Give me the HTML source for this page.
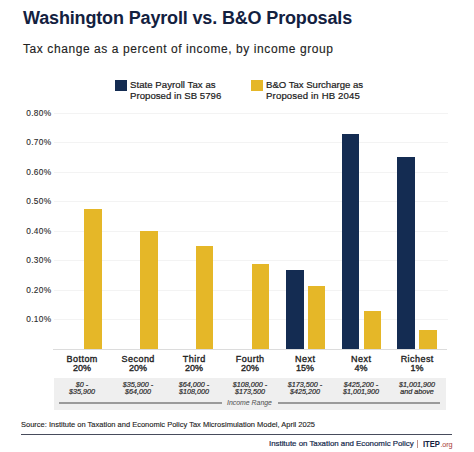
<!DOCTYPE html>
<html><head><meta charset="utf-8">
<style>
html,body{margin:0;padding:0;background:#fff;}
body{width:474px;height:452px;position:relative;overflow:hidden;font-family:"Liberation Sans",sans-serif;}
.a{position:absolute;white-space:nowrap;line-height:1;}
.title{left:23px;top:9px;font-size:18px;font-weight:bold;color:#13213f;letter-spacing:-0.15px;}
.sub{left:23px;top:42.6px;font-size:12px;color:#222;-webkit-text-stroke:0.12px #222;letter-spacing:0.58px;}
.sw{position:absolute;width:12px;height:11px;}
.leg{font-size:9.6px;color:#1a1a1a;line-height:10.5px;-webkit-text-stroke:0.2px #1a1a1a;}
.yl{font-size:8.3px;color:#2a2a2a;text-align:right;width:40px;left:11.5px;letter-spacing:0.35px;margin-top:-0.6px;-webkit-text-stroke:0.1px #2a2a2a;}
.grid{position:absolute;left:54px;width:394px;height:1px;background:#f3f3f3;}
.bar{position:absolute;width:17.5px;}
.n{background:#142c52;}
.y{background:#e5b728;}
.cat{font-size:9px;font-weight:normal;-webkit-text-stroke:0.35px #222;color:#222;text-align:center;width:60px;line-height:9.4px;}
.l1{letter-spacing:0.45px;margin-right:-0.45px;}
.inc{font-size:7.2px;font-style:italic;color:#2a2a2a;-webkit-text-stroke:0.2px #2a2a2a;text-align:center;width:60px;line-height:7px;}
</style></head><body>
<div class="a title">Washington Payroll vs. B&amp;O Proposals</div>
<div class="a sub">Tax change as a percent of income, by income group</div>

<div class="sw n" style="left:115px;top:80px;"></div>
<div class="a leg" style="left:130px;top:80.1px;"><span style="letter-spacing:0.05px">State Payroll Tax as</span><br><span style="letter-spacing:0.03px">Proposed in SB 5796</span></div>
<div class="sw y" style="left:251px;top:80px;"></div>
<div class="a leg" style="left:266px;top:80.1px;"><span style="letter-spacing:-0.02px">B&amp;O Tax Surcharge as</span><br><span style="letter-spacing:0.15px">Proposed in HB 2045</span></div>

<div class="grid" style="top:113px"></div>
<div class="grid" style="top:142px"></div>
<div class="grid" style="top:172px"></div>
<div class="grid" style="top:201px"></div>
<div class="grid" style="top:231px"></div>
<div class="grid" style="top:260px"></div>
<div class="grid" style="top:290px"></div>
<div class="grid" style="top:319px"></div>
<div class="a" style="left:53px;top:349px;width:394px;height:1px;background:#dcdcdc;"></div>

<div class="a yl" style="top:110px">0.80%</div>
<div class="a yl" style="top:139px">0.70%</div>
<div class="a yl" style="top:169px">0.60%</div>
<div class="a yl" style="top:198px">0.50%</div>
<div class="a yl" style="top:228px">0.40%</div>
<div class="a yl" style="top:257px">0.30%</div>
<div class="a yl" style="top:287px">0.20%</div>
<div class="a yl" style="top:316px">0.10%</div>

<!-- bars -->
<div class="bar y" style="left:84px;top:209px;height:140px"></div>
<div class="bar y" style="left:140px;top:231px;height:118px"></div>
<div class="bar y" style="left:195.5px;top:246px;height:103px"></div>
<div class="bar y" style="left:251.5px;top:264px;height:85px"></div>
<div class="bar n" style="left:286px;top:270px;height:79px"></div>
<div class="bar y" style="left:307.5px;top:285.5px;height:63.5px"></div>
<div class="bar n" style="left:341.5px;top:133.5px;height:215.5px"></div>
<div class="bar y" style="left:363.5px;top:310.5px;height:38.5px"></div>
<div class="bar n" style="left:397px;top:156.5px;height:192.5px"></div>
<div class="bar y" style="left:419px;top:330px;height:19px"></div>

<!-- categories -->
<div class="a cat" style="left:52px;top:355px"><span class="l1">Bottom</span><br>20%</div>
<div class="a cat" style="left:108px;top:355px"><span class="l1">Second</span><br>20%</div>
<div class="a cat" style="left:164px;top:355px"><span class="l1">Third</span><br>20%</div>
<div class="a cat" style="left:220px;top:355px"><span class="l1">Fourth</span><br>20%</div>
<div class="a cat" style="left:275px;top:355px"><span class="l1">Next</span><br>15%</div>
<div class="a cat" style="left:331px;top:355px"><span class="l1">Next</span><br>4%</div>
<div class="a cat" style="left:387px;top:355px"><span class="l1">Richest</span><br>1%</div>

<div class="a" style="left:54px;top:378px;width:391.5px;height:31.5px;background:#efefef;"></div>
<div class="a inc" style="left:52px;top:380.8px">$0 -<br>$35,900</div>
<div class="a inc" style="left:108px;top:380.8px">$35,900 -<br>$64,000</div>
<div class="a inc" style="left:164px;top:380.8px">$64,000 -<br>$108,000</div>
<div class="a inc" style="left:220px;top:380.8px">$108,000 -<br>$173,500</div>
<div class="a inc" style="left:275px;top:380.8px">$173,500 -<br>$425,200</div>
<div class="a inc" style="left:331px;top:380.8px">$425,200 -<br>$1,001,900</div>
<div class="a inc" style="left:387px;top:380.8px">$1,001,900<br>and above</div>
<div class="a" style="left:59px;top:402px;width:162.5px;height:2px;background:#9a9a9a;"></div>
<div class="a" style="left:278px;top:402px;width:162px;height:2px;background:#9a9a9a;"></div>
<div class="a inc" style="left:219.5px;top:399.2px;font-size:6.9px;color:#555;-webkit-text-stroke:0.05px #555;">Income Range</div>

<div class="a" style="left:21px;top:421px;font-size:7.5px;color:#222;-webkit-text-stroke:0.12px #222;">Source: Institute on Taxation and Economic Policy Tax Microsimulation Model, April 2025</div>
<div class="a" style="left:21px;top:434px;width:431px;height:1px;background:#474c5c;"></div>
<div class="a" style="left:269px;top:440px;font-size:7.9px;color:#14284b;letter-spacing:-0.02px;-webkit-text-stroke:0.2px #14284b;">Institute on Taxation and Economic Policy</div>
<div class="a" style="left:417px;top:440px;width:1px;height:8px;background:#c09088;"></div>
<div class="a" style="left:422.5px;top:439.6px;font-size:8.9px;font-weight:bold;color:#14213f;transform:scaleX(0.86);transform-origin:0 0;">ITEP</div><div class="a" style="left:440.4px;top:441.2px;font-size:7.3px;color:#a83a36;letter-spacing:-0.15px;">.org</div>
</body></html>
